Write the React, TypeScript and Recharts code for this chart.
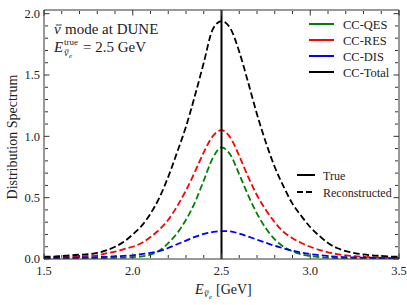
import React from "react";
import { LineChart, Line, XAxis, YAxis, ReferenceLine } from "recharts";

// reconstructed energy grid (GeV)
const energy = [
  1.5, 1.55, 1.6, 1.65, 1.7, 1.75, 1.8, 1.85, 1.9, 1.95, 2.0, 2.05, 2.1, 2.15, 2.2, 2.25, 2.3, 2.35, 2.4, 2.45,
  2.5, 2.55, 2.6, 2.65, 2.7, 2.75, 2.8, 2.85, 2.9, 2.95, 3.0, 3.05, 3.1, 3.15, 3.2, 3.25, 3.3, 3.35, 3.4, 3.45, 3.5,
];

const ccQes = [
  0.002, 0.002, 0.003, 0.003, 0.004, 0.004, 0.005, 0.007, 0.01, 0.012, 0.015, 0.022, 0.035, 0.07, 0.13, 0.21, 0.32,
  0.46, 0.64, 0.82, 0.91, 0.85, 0.69, 0.52, 0.37, 0.25, 0.16, 0.1, 0.062, 0.038, 0.024, 0.016, 0.011, 0.008, 0.006,
  0.005, 0.004, 0.003, 0.003, 0.002, 0.002,
];

const ccRes = [
  0.01, 0.012, 0.015, 0.018, 0.02, 0.025, 0.03, 0.045, 0.06, 0.08, 0.1, 0.13, 0.18, 0.24, 0.32, 0.43, 0.56, 0.71,
  0.87, 1.0, 1.05, 0.99, 0.84, 0.67, 0.52, 0.4, 0.3, 0.22, 0.17, 0.13, 0.1, 0.075, 0.055, 0.04, 0.03, 0.023, 0.018,
  0.014, 0.011, 0.01, 0.008,
];

const ccDis = [
  0.008, 0.009, 0.01, 0.011, 0.012, 0.013, 0.015, 0.018, 0.022, 0.026, 0.03, 0.04, 0.05, 0.065, 0.09, 0.12, 0.15,
  0.18, 0.205, 0.22, 0.228, 0.225, 0.207, 0.183, 0.158, 0.132, 0.108, 0.087, 0.068, 0.052, 0.04, 0.031, 0.024, 0.019,
  0.015, 0.013, 0.011, 0.01, 0.008, 0.007, 0.006,
];

const ccTotal = [
  0.02, 0.02, 0.025, 0.03, 0.035, 0.04, 0.05, 0.07, 0.1, 0.14, 0.2, 0.27, 0.37, 0.5, 0.67, 0.87, 1.08, 1.33, 1.6,
  1.87, 1.94, 1.88, 1.69, 1.44, 1.18, 0.95, 0.75, 0.59, 0.45, 0.35, 0.26, 0.19, 0.13, 0.09, 0.065, 0.048, 0.037,
  0.03, 0.025, 0.02, 0.018,
];

const trueEnergy = 2.5;

const xMajor = [1.5, 2.0, 2.5, 3.0, 3.5];
const xMinor = [1.6, 1.7, 1.8, 1.9, 2.1, 2.2, 2.3, 2.4, 2.6, 2.7, 2.8, 2.9, 3.1, 3.2, 3.3, 3.4];
const yMajor = [0, 0.5, 1.0, 1.5, 2.0];
const yMinor = [0.1, 0.2, 0.3, 0.4, 0.6, 0.7, 0.8, 0.9, 1.1, 1.2, 1.3, 1.4, 1.6, 1.7, 1.8, 1.9];

const seriesLabels = ["CC-QES", "CC-RES", "CC-DIS", "CC-Total"];
const seriesColors = ["#008000", "#ff0000", "#0000ff", "#000000"];

const data = energy.map((e, i) => ({
  e,
  qes: ccQes[i],
  res: ccRes[i],
  dis: ccDis[i],
  total: ccTotal[i],
}));

const W = 407;
const H = 305;
const FONT = '"Liberation Serif", "DejaVu Serif", serif';
const FRAME = "#333";
const TEXT = "#222";
const xDomain: [number, number] = [1.5, 3.5];
const yDomain: [number, number] = [0, 2.03];

const noLabel = () => "";

// nu with a bar on top (anti-neutrino)
function NuBar({ x, y, size }: { x: number; y: number; size: number }) {
  return (
    <g>
      <text x={x} y={y} fontSize={size} fontStyle="italic">{"\u03BD"}</text>
      <line x1={x + size * 0.12} x2={x + size * 0.52} y1={y - size * 0.6} y2={y - size * 0.6} stroke={TEXT} strokeWidth={Math.max(0.7, size * 0.06)} />
    </g>
  );
}

export default function App() {
  const tickStyle = { fill: TEXT, fontSize: 12.5 };
  return (
    <div style={{ position: "absolute", left: 0, top: 0, width: W, height: H, background: "#fff", fontFamily: FONT }}>
      <LineChart width={W} height={H} data={data} margin={{ top: 10, right: 8, left: 0, bottom: 0 }} style={{ fontFamily: FONT }}>
        {/* labelled axes */}
        <XAxis
          xAxisId="x"
          dataKey="e"
          type="number"
          domain={xDomain}
          allowDataOverflow
          ticks={xMajor}
          tickFormatter={(v: number) => v.toFixed(1)}
          axisLine={false}
          tickLine={false}
          tickSize={0}
          tickMargin={7}
          height={46}
          tick={tickStyle}
        />
        <YAxis
          yAxisId="y"
          type="number"
          domain={yDomain}
          allowDataOverflow
          ticks={yMajor}
          tickFormatter={(v: number) => v.toFixed(1)}
          axisLine={false}
          tickLine={false}
          tickSize={0}
          tickMargin={4}
          width={44}
          tick={tickStyle}
        />
        {/* inward ticks on all four sides (mirrored axes take no room) */}
        <XAxis xAxisId="xb1" type="number" dataKey="e" domain={xDomain} allowDataOverflow ticks={xMajor} orientation="bottom" mirror height={1} tickSize={5.5} tickFormatter={noLabel} axisLine={{ stroke: FRAME }} tickLine={{ stroke: FRAME }} />
        <XAxis xAxisId="xb2" type="number" dataKey="e" domain={xDomain} allowDataOverflow ticks={xMinor} orientation="bottom" mirror height={1} tickSize={3} tickFormatter={noLabel} axisLine={false} tickLine={{ stroke: FRAME }} />
        <XAxis xAxisId="xt1" type="number" dataKey="e" domain={xDomain} allowDataOverflow ticks={xMajor} orientation="top" mirror height={1} tickSize={5.5} tickFormatter={noLabel} axisLine={{ stroke: FRAME }} tickLine={{ stroke: FRAME }} />
        <XAxis xAxisId="xt2" type="number" dataKey="e" domain={xDomain} allowDataOverflow ticks={xMinor} orientation="top" mirror height={1} tickSize={3} tickFormatter={noLabel} axisLine={false} tickLine={{ stroke: FRAME }} />
        <YAxis yAxisId="yl1" type="number" domain={yDomain} allowDataOverflow ticks={yMajor} orientation="left" mirror width={1} tickSize={5.5} tickFormatter={noLabel} axisLine={{ stroke: FRAME }} tickLine={{ stroke: FRAME }} />
        <YAxis yAxisId="yl2" type="number" domain={yDomain} allowDataOverflow ticks={yMinor} orientation="left" mirror width={1} tickSize={3} tickFormatter={noLabel} axisLine={false} tickLine={{ stroke: FRAME }} />
        <YAxis yAxisId="yr1" type="number" domain={yDomain} allowDataOverflow ticks={yMajor} orientation="right" mirror width={1} tickSize={5.5} tickFormatter={noLabel} axisLine={{ stroke: FRAME }} tickLine={{ stroke: FRAME }} />
        <YAxis yAxisId="yr2" type="number" domain={yDomain} allowDataOverflow ticks={yMinor} orientation="right" mirror width={1} tickSize={3} tickFormatter={noLabel} axisLine={false} tickLine={{ stroke: FRAME }} />

        <Line xAxisId="x" yAxisId="y" dataKey="qes" type="monotone" stroke={seriesColors[0]} strokeWidth={1.8} strokeDasharray="6.5 3" dot={false} isAnimationActive={false} />
        <Line xAxisId="x" yAxisId="y" dataKey="res" type="monotone" stroke={seriesColors[1]} strokeWidth={1.8} strokeDasharray="6.5 3" dot={false} isAnimationActive={false} />
        <Line xAxisId="x" yAxisId="y" dataKey="dis" type="monotone" stroke={seriesColors[2]} strokeWidth={1.8} strokeDasharray="6.5 3" dot={false} isAnimationActive={false} />
        <Line xAxisId="x" yAxisId="y" dataKey="total" type="monotone" stroke={seriesColors[3]} strokeWidth={1.8} strokeDasharray="6.5 3" dot={false} isAnimationActive={false} />
        <ReferenceLine xAxisId="x" yAxisId="y" x={trueEnergy} stroke="#000" strokeWidth={2} />
      </LineChart>

      {/* text annotations, legends and axis titles */}
      <svg width={W} height={H} style={{ position: "absolute", left: 0, top: 0, pointerEvents: "none", fontFamily: FONT }} fill={TEXT}>
        <NuBar x={54} y={34} size={15} />
        <text x={65} y={34} fontSize={15}>mode at DUNE</text>
        <text x={54} y={52} fontSize={15} fontStyle="italic">E</text>
        <text x={64} y={45} fontSize={9}>true</text>
        <NuBar x={64} y={56} size={10} />
        <text x={69} y={58} fontSize={7} fontStyle="italic">e</text>
        <text x={83} y={52} fontSize={15}>= 2.5 GeV</text>

        {seriesLabels.map((label, i) => (
          <g key={label}>
            <line x1={309} x2={334} y1={24 + i * 16} y2={24 + i * 16} stroke={seriesColors[i]} strokeWidth={2} />
            <text x={343} y={28.5 + i * 16} fontSize={12.5}>{label}</text>
          </g>
        ))}

        <line x1={297} x2={315} y1={175} y2={175} stroke="#000" strokeWidth={2} />
        <text x={323} y={179.5} fontSize={12}>True</text>
        <line x1={297} x2={315} y1={192} y2={192} stroke="#000" strokeWidth={2} strokeDasharray="6 3" />
        <text x={323} y={196.5} fontSize={12}>Reconstructed</text>

        <text x={195} y={294} fontSize={14} fontStyle="italic">E</text>
        <NuBar x={204} y={297} size={10} />
        <text x={209} y={299} fontSize={7} fontStyle="italic">e</text>
        <text x={216} y={294} fontSize={14}>[GeV]</text>
        <text x={0} y={0} fontSize={14} textAnchor="middle" transform="translate(17 137) rotate(-90)">
          Distribution Spectrum
        </text>
      </svg>
    </div>
  );
}
